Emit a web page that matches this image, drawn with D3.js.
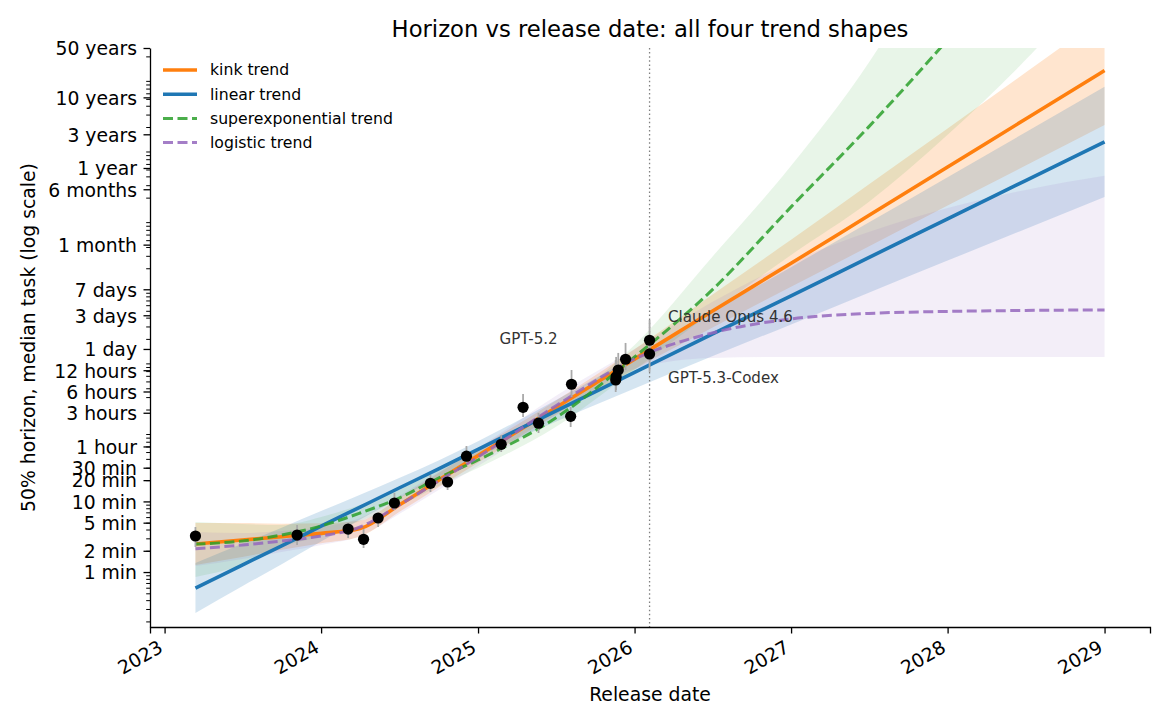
<!DOCTYPE html>
<html><head><meta charset="utf-8">
<script src="https://cdn.jsdelivr.net/npm/d3@7"></script>
<style>
html,body{margin:0;padding:0;background:#fff;}
svg{display:block;font-family:"DejaVu Sans",sans-serif;}
</style></head><body>
<svg id="chart" width="1170" height="728"></svg>
<script>
// ================= DATA (time in minutes) =================
const trendDates = ["2023-03-14","2023-07-01","2023-10-01","2024-01-01","2024-04-01","2024-07-01","2024-10-01","2025-01-01","2025-07-01","2026-01-01","2026-07-01","2027-01-01","2027-07-01","2028-01-01","2028-07-01","2029-01-01"];

const kinkMid = [2.49,2.84,3.16,3.53,4.13,8.89,20.0,44.5,212,1033,4930,23500,111700,543500,2592000,12610000];
const kinkLo  = [1.256,1.631,2.07,2.55,3.18,7.08,15.9,35.4,169,746,2876,10920,40640,154800,568900,2131000];
const kinkHi  = [4.94,4.94,4.83,4.90,5.36,11.2,25.2,56.0,267,1431,8441,50580,307200,1908000,11810000,74560000];

const linearMid = [0.593,1.256,2.343,4.454,8.305,15.48,28.86,54.7,190.1,671.8,2343,8145,28300,100000,348700,1232000];
const linearLo  = [0.263,0.629,1.294,2.713,5.54,11.13,21.88,42.12,133.7,396,1136,3204,9010,25670,72170,204900];
const linearHi  = [1.341,2.508,4.242,7.31,12.44,21.52,38.07,71.0,270.4,1139,4831,20700,88900,389700,1685000,7408000];

const superMid = [2.49,2.75,3.34,4.48,6.85,11.17,21.45,38.58,151.8,1110,9870,147900,2010000,34310000,646000000,16850000000];
const superLo  = [0.85,1.256,2.26,3.236,5.28,8.61,16.52,29.73,113.2,726,4816,30910,174100,1548000,17870000,305100000];
const superHi  = [5.11,4.79,4.63,6.01,8.89,14.51,27.85,50.08,203.6,1642,28960,563300,16200000,1240000000,165200000000,30500000000000];

const logisticMid = [2.138,2.412,2.749,3.236,4.34,8.89,19.45,42.55,224.5,1040,2428,3833,4587,4896,5058,5140];
const logisticLo  = [1.216,1.528,1.92,2.412,3.236,6.63,14.51,31.72,162.0,750.6,1075,1110,1110,1110,1110,1110];
const logisticHi  = [3.687,3.568,3.808,4.34,5.82,11.93,26.09,57.07,311.1,1441,6672,24600,65440,143200,257500,406600];

const pointDates   = ["2023-03-14","2023-11-06","2024-03-04","2024-04-09","2024-05-13","2024-06-20","2024-09-12","2024-10-22","2024-12-05","2025-02-24","2025-04-16","2025-05-22","2025-08-07","2025-08-05","2025-11-18","2025-11-19","2025-11-24","2025-12-11","2026-02-05","2026-02-05"];
const pointMinutes = [3.24,3.34,4.06,2.91,5.82,9.49,18.05,18.83,43.7,64.4,215,128,456,160,524,584,726,1030,1914,1224];
const errLow       = [2.26,2.41,3.03,2.19,4.34,7.55,13.6,14.5,35.0,50.1,157,93.1,301,113,354,378,445,726,1185,681];
const errHigh      = [4.34,4.63,4.94,4.06,6.85,13.2,23.7,21.5,60.9,87.2,332,179,726,217,1006,1110,1265,1752,3710,1933];

const annotationTexts   = ["GPT-5.2","Claude Opus 4.6","GPT-5.3-Codex"];
const annotationPoints  = [17,18,19];
const cutoffDate = "2026-02-05";

const yTickValues = [1,2,5,10,20,30,60,180,360,720,1440,4320,10080,43200,262800,525600,1576800,5256000,26280000];
const yTickLabels = ["1 min","2 min","5 min","10 min","20 min","30 min","1 hour","3 hours","6 hours","12 hours","1 day","3 days","7 days","1 month","6 months","1 year","3 years","10 years","50 years"];
const yDomain = [10/60, 26280000]; // 10 seconds .. 50 years

const seriesNames = ["kink trend","linear trend","superexponential trend","logistic trend"];

// ================= STYLE / LAYOUT =================
const M = {left:150, right:1150, top:48, bottom:627};
const seriesStyle = [
  {color:"#ff7f0e", dash:null,     width:3.6, opacity:1,    bandAlpha:0.2},
  {color:"#1f77b4", dash:null,     width:3.6, opacity:1,    bandAlpha:0.19},
  {color:"#2ca02c", dash:"10,4.5", width:3.0, opacity:0.85, bandAlpha:0.11},
  {color:"#9467bd", dash:"10,4.5", width:3.0, opacity:0.85, bandAlpha:0.11}
];
const annOffsets = [[-126,-15],[18.5,-18],[18.5,29]];

const series = [
  {mid:kinkMid, lo:kinkLo, hi:kinkHi},
  {mid:linearMid, lo:linearLo, hi:linearHi},
  {mid:superMid, lo:superLo, hi:superHi},
  {mid:logisticMid, lo:logisticLo, hi:logisticHi}
].map((s,i)=>Object.assign(s, seriesStyle[i], {name:seriesNames[i]}));

// ================= SCALES =================
const parse = d3.utcParse("%Y-%m-%d");
const tDates = trendDates.map(parse);
const pDates = pointDates.map(parse);
const allD = tDates.concat(pDates);
const dMin = d3.min(allD), dMax = d3.max(allD);
const pad = (dMax - dMin) * 0.05;
const x = d3.scaleUtc().domain([new Date(+dMin - pad), new Date(+dMax + pad)]).range([M.left, M.right]);
const y = d3.scaleLog().domain(yDomain).range([M.bottom, M.top]);

const svg = d3.select("#chart");
svg.append("rect").attr("width",1170).attr("height",728).attr("fill","#fff");
svg.append("defs").append("clipPath").attr("id","clip")
  .append("rect").attr("x",M.left).attr("y",M.top).attr("width",M.right-M.left).attr("height",M.bottom-M.top);

const plot = svg.append("g").attr("clip-path","url(#clip)");

// bands
series.forEach(s=>{
  const area = d3.area()
    .x((d,i)=>x(tDates[i]))
    .y0((d,i)=>y(s.lo[i]))
    .y1((d,i)=>y(s.hi[i]))
    .curve(d3.curveMonotoneX);
  plot.append("path").attr("d", area(s.mid))
    .attr("fill", s.color).attr("fill-opacity", s.bandAlpha).attr("stroke","none");
});

// cutoff line
plot.append("line")
  .attr("x1", x(parse(cutoffDate))).attr("x2", x(parse(cutoffDate)))
  .attr("y1", M.top).attr("y2", M.bottom)
  .attr("stroke","#7f7f7f").attr("stroke-width",1.3).attr("stroke-dasharray","1.5,2.6");

// trend lines
series.forEach(s=>{
  const line = d3.line().x((d,i)=>x(tDates[i])).y(d=>y(d)).curve(d3.curveMonotoneX);
  plot.append("path").attr("d", line(s.mid))
    .attr("fill","none").attr("stroke", s.color).attr("stroke-width", s.width)
    .attr("stroke-opacity", s.opacity)
    .attr("stroke-dasharray", s.dash).attr("stroke-linecap","butt");
});

// error bars + points
const pts = svg.append("g");
pointMinutes.forEach((v,i)=>{
  pts.append("line").attr("x1",x(pDates[i])).attr("x2",x(pDates[i]))
    .attr("y1",y(errLow[i])).attr("y2",y(errHigh[i]))
    .attr("stroke","#a9a9a9").attr("stroke-width",1.8);
});
pointMinutes.forEach((v,i)=>{
  pts.append("circle").attr("cx",x(pDates[i])).attr("cy",y(v)).attr("r",5.6).attr("fill","#000");
});

// annotations
annotationTexts.forEach((t,k)=>{
  const i = annotationPoints[k];
  svg.append("text").attr("x", x(pDates[i]) + annOffsets[k][0]).attr("y", y(pointMinutes[i]) + annOffsets[k][1])
    .attr("font-size","15.1px").attr("fill","#333").text(t);
});

// ================= AXES =================
const gx = svg.append("g").attr("transform",`translate(0,${M.bottom})`)
  .call(d3.axisBottom(x).ticks(d3.utcYear.every(1)).tickFormat(d3.utcFormat("%Y")).tickSizeOuter(0).tickSize(6.5));
gx.select(".domain").attr("stroke","#000").attr("stroke-width",1.3);
gx.selectAll(".tick line").attr("stroke","#000").attr("stroke-width",1.3);
gx.selectAll(".tick text")
  .attr("x",0).attr("y",0).attr("dy",null)
  .attr("text-anchor","end")
  .attr("transform","translate(-1,24) rotate(-30)")
  .attr("font-size","18.8px").attr("font-family","DejaVu Sans").attr("fill","#000");

const minorVals = [];
for (let k=-1;k<=7;k++) for (let m=2;m<=9;m++){ const v=m*Math.pow(10,k); if (v>=yDomain[0] && v<=yDomain[1]) minorVals.push(v); }
const gyMinor = svg.append("g").attr("transform",`translate(${M.left},0)`)
  .call(d3.axisLeft(y).tickValues(minorVals).tickFormat("").tickSize(3.8).tickSizeOuter(0));
gyMinor.select(".domain").remove();
gyMinor.selectAll(".tick line").attr("stroke","#000").attr("stroke-width",1.0);

const gy = svg.append("g").attr("transform",`translate(${M.left},0)`)
  .call(d3.axisLeft(y).tickValues(yTickValues).tickFormat((d,i)=>yTickLabels[i]).tickSize(6.5).tickPadding(6.5).tickSizeOuter(0));
gy.select(".domain").attr("stroke","#000").attr("stroke-width",1.3);
gy.selectAll(".tick line").attr("stroke","#000").attr("stroke-width",1.3);
gy.selectAll(".tick text").attr("font-size","18.8px").attr("font-family","DejaVu Sans").attr("fill","#000").attr("dy","0.36em");

// titles
svg.append("text").attr("x",(M.left+M.right)/2).attr("y",37).attr("text-anchor","middle")
  .attr("font-size","22.7px").attr("fill","#000").text("Horizon vs release date: all four trend shapes");
svg.append("text").attr("x",(M.left+M.right)/2).attr("y",701).attr("text-anchor","middle")
  .attr("font-size","18.8px").attr("fill","#000").text("Release date");
svg.append("text").attr("transform",`translate(35,${(M.top+M.bottom)/2}) rotate(-90)`).attr("text-anchor","middle")
  .attr("font-size","18.8px").attr("fill","#000").text("50% horizon, median task (log scale)");

// legend
const lg = svg.append("g");
series.forEach((s,i)=>{
  const yy = 70 + i*24.2;
  lg.append("line").attr("x1",163).attr("x2",197).attr("y1",yy).attr("y2",yy)
    .attr("stroke",s.color).attr("stroke-width",s.width).attr("stroke-opacity",s.opacity).attr("stroke-dasharray",s.dash);
  lg.append("text").attr("x",210).attr("y",yy).attr("dy","0.35em").attr("font-size","15.7px").attr("fill","#000").text(s.name);
});
</script>
</body></html>
